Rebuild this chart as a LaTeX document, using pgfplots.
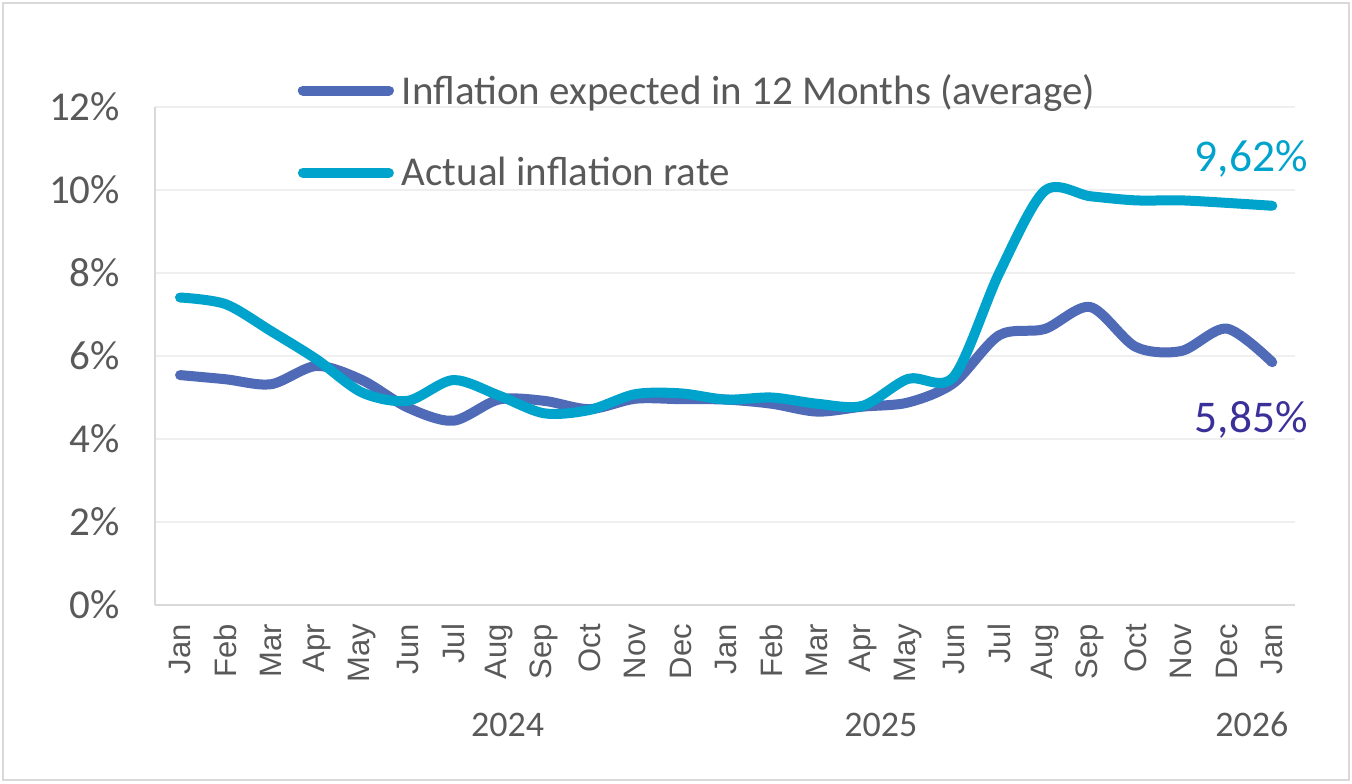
\documentclass[border=0pt]{standalone}
\usepackage{pgfplots}
\pgfplotsset{compat=1.18}
\usepackage{fontspec}
\setmainfont{Carlito}
\newfontfamily\monthfont{Liberation Sans}
\definecolor{expblue}{HTML}{4F6AB6}
\definecolor{actcyan}{HTML}{00A3CB}
\definecolor{lblind}{HTML}{3B3099}
\definecolor{txtgray}{HTML}{595959}
\definecolor{axgray}{HTML}{D9D9D9}
\definecolor{grdgray}{HTML}{EFEFEF}

\pgfplotstableread{
x exp act
0 5.54 7.41
1 5.44 7.25
2 5.32 6.60
3 5.76 5.92
4 5.42 5.12
5 4.76 4.92
6 4.44 5.42
7 4.95 5.05
8 4.92 4.62
9 4.72 4.70
10 4.97 5.08
11 4.96 5.10
12 4.95 4.95
13 4.85 5.00
14 4.66 4.85
15 4.78 4.80
16 4.88 5.45
17 5.35 5.50
18 6.50 8.00
19 6.65 9.98
20 7.18 9.85
21 6.22 9.75
22 6.12 9.75
23 6.66 9.69
24 5.85 9.62
}\infl

\begin{document}
\begin{tikzpicture}
\useasboundingbox (0,0) rectangle (676pt,391.5pt);
\draw[axgray, line width=1.25pt] (1.5pt,1.5pt) rectangle (674.5pt,390pt);
\begin{axis}[
    at={(77.5pt,89pt)}, anchor=south west,
    scale only axis,
    width=570pt, height=249pt,
    xmin=-0.55, xmax=24.5,
    ymin=0, ymax=12,
    clip=false,
    axis x line*=bottom, axis y line*=left,
    axis line style={axgray, line width=0.8pt, -},
    major tick length=0pt,
    ymajorgrids, grid style={grdgray, line width=0.8pt},
    ytick={0,2,...,12},
    yticklabels={0\%,2\%,4\%,6\%,8\%,10\%,12\%},
    yticklabel style={font=\fontsize{20.5pt}{24pt}\selectfont, text=txtgray, xshift=-14pt},
    xtick={0,...,24},
    xticklabels={Jan,Feb,Mar,Apr,May,Jun,Jul,Aug,Sep,Oct,Nov,Dec,Jan,Feb,Mar,Apr,May,Jun,Jul,Aug,Sep,Oct,Nov,Dec,Jan},
    xticklabel style={font=\monthfont\fontsize{15.5pt}{18pt}\selectfont, text=txtgray, rotate=90, anchor=east, xshift=-6pt},
    legend cell align=left,
    legend style={draw=none, fill=none, at={(0.125,1.075)}, anchor=north west,
        font=\fontsize{20.5pt}{24pt}\selectfont, text=txtgray, row sep=21pt, inner sep=0pt,
        nodes={inner xsep=4pt}},
    legend image code/.code={\draw[#1, line cap=round] (0pt,0pt) -- (43pt,0pt);},
]
\addplot[expblue, line width=5pt, smooth, tension=0.5, line cap=round] table[x=x, y=exp] {\infl};
\addlegendentry{Inflation expected in 12 Months (average)}
\addplot[actcyan, line width=5pt, smooth, tension=0.5, line cap=round] table[x=x, y=act] {\infl};
\addlegendentry{Actual inflation rate}
\node[text=actcyan, font=\fontsize{22.7pt}{26pt}\selectfont] at (axis cs:23.54,10.75) {9,62\%};
\node[text=lblind, font=\fontsize{22.7pt}{26pt}\selectfont] at (axis cs:23.54,4.46) {5,85\%};
\node[text=txtgray, font=\fontsize{18pt}{21pt}\selectfont] at (axis cs:7.2,-2.89) {2024};
\node[text=txtgray, font=\fontsize{18pt}{21pt}\selectfont] at (axis cs:15.4,-2.89) {2025};
\node[text=txtgray, font=\fontsize{18pt}{21pt}\selectfont] at (axis cs:23.55,-2.89) {2026};
\end{axis}
\end{tikzpicture}
\end{document}
